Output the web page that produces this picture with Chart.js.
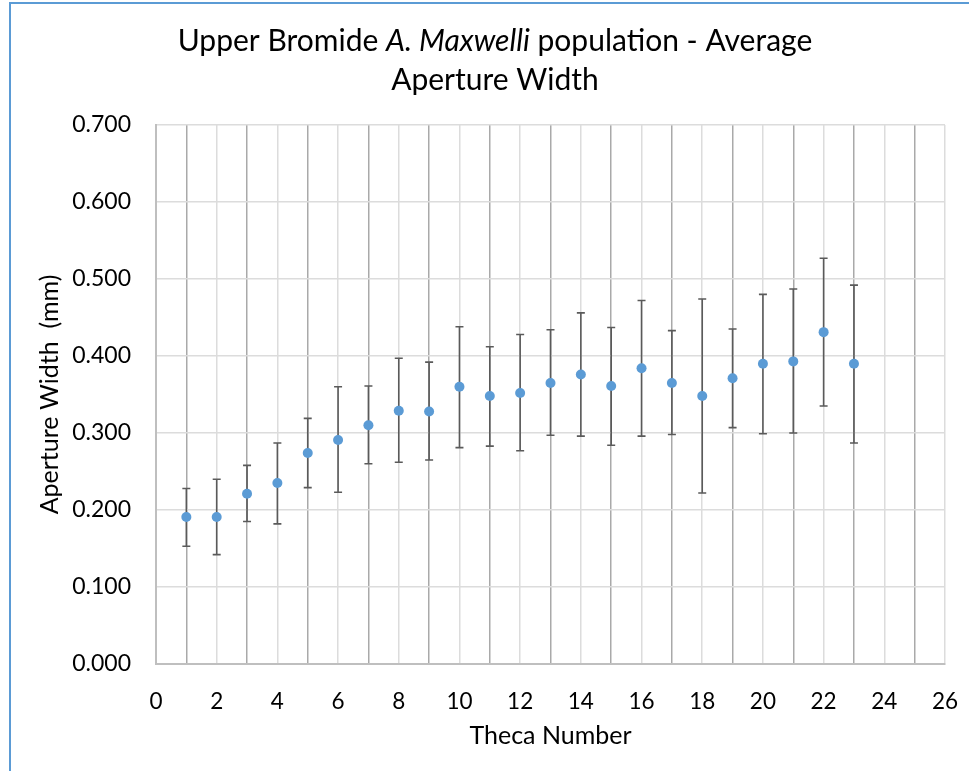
<!DOCTYPE html>
<html>
<head>
<meta charset="utf-8">
<script src="https://cdn.jsdelivr.net/npm/chart.js@4/dist/chart.umd.min.js"></script>
<style>
  html, body { margin: 0; padding: 0; background: #fff; }
  #wrap { position: relative; width: 969px; height: 771px; overflow: hidden; }
  #frame { position: absolute; left: 9px; top: 2px; width: 980px; height: 800px;
    border-top: 2px solid #5b9bd5; border-left: 2px solid #5b9bd5; box-sizing: border-box; }
  canvas { position: absolute; left: 0; top: 0; }
</style>
</head>
<body>
<div id="wrap">
  <div id="frame"></div>
  <canvas id="chart" width="969" height="771"></canvas>
</div>
<script>
// Theca number vs mean aperture width, with the ends of each error bar
const theca = [1, 2, 3, 4, 5, 6, 7, 8, 9, 10, 11, 12, 13, 14, 15, 16, 17, 18, 19, 20, 21, 22, 23];
const meanWidth = [0.191, 0.191, 0.221, 0.235, 0.274, 0.291, 0.310, 0.329, 0.328, 0.360, 0.348, 0.352,
  0.365, 0.376, 0.361, 0.384, 0.365, 0.348, 0.371, 0.390, 0.393, 0.431, 0.390];
const errHigh = [0.228, 0.240, 0.258, 0.287, 0.319, 0.360, 0.361, 0.397, 0.392, 0.438, 0.412, 0.428,
  0.434, 0.456, 0.437, 0.472, 0.433, 0.474, 0.435, 0.480, 0.487, 0.527, 0.492];
const errLow = [0.153, 0.142, 0.185, 0.182, 0.229, 0.223, 0.260, 0.262, 0.265, 0.281, 0.283, 0.277,
  0.297, 0.296, 0.284, 0.296, 0.298, 0.222, 0.307, 0.299, 0.300, 0.335, 0.287];
const titleParts = [
  [['Upper Bromide ', false], ['A. Maxwelli', true], [' population - Average', false]],
  [['Aperture Width', false]]
];

const FONT = 'Lato, "Open Sans", sans-serif';

// Mixed upright/italic title, drawn by hand since Chart.js titles are one style only.
const richTitle = {
  id: 'richTitle',
  afterDraw(chart) {
    const ctx = chart.ctx;
    const size = 30;
    const cx = 495;
    const baselines = [51, 90];
    ctx.save();
    ctx.fillStyle = '#000';
    ctx.textBaseline = 'alphabetic';
    ctx.textAlign = 'left';
    titleParts.forEach((line, li) => {
      const widths = line.map(([t, it]) => {
        ctx.font = `${it ? 'italic ' : ''}${size}px ${FONT}`;
        return ctx.measureText(t).width;
      });
      let x = cx - widths.reduce((a, b) => a + b, 0) / 2;
      line.forEach(([t, it], i) => {
        ctx.font = `${it ? 'italic ' : ''}${size}px ${FONT}`;
        ctx.fillText(t, x, baselines[li]);
        x += widths[i];
      });
    });
    ctx.restore();
  }
};

// Vertical error bars with caps, under the points.
const errorBars = {
  id: 'errorBars',
  beforeDatasetsDraw(chart) {
    const { ctx, scales: { x, y } } = chart;
    ctx.save();
    ctx.strokeStyle = '#5a5a5a';
    ctx.lineWidth = 1.6;
    theca.forEach((t, i) => {
      const px = x.getPixelForValue(t);
      const top = y.getPixelForValue(errHigh[i]);
      const bot = y.getPixelForValue(errLow[i]);
      ctx.beginPath();
      ctx.moveTo(px, top); ctx.lineTo(px, bot);
      ctx.moveTo(px - 4, top); ctx.lineTo(px + 4, top);
      ctx.moveTo(px - 4, bot); ctx.lineTo(px + 4, bot);
      ctx.stroke();
    });
    ctx.restore();
  }
};

new Chart(document.getElementById('chart'), {
  type: 'scatter',
  data: {
    datasets: [{
      data: theca.map((t, i) => ({ x: t, y: meanWidth[i] })),
      backgroundColor: '#5b9bd5',
      borderColor: '#5b9bd5',
      pointRadius: 5,
      pointBorderWidth: 0
    }]
  },
  options: {
    responsive: false,
    animation: false,
    layout: { padding: { left: 35, right: 24, top: 125, bottom: 20 } },
    plugins: { legend: { display: false }, tooltip: { enabled: false }, title: { display: false } },
    scales: {
      x: {
        type: 'linear', min: 0, max: 26,
        // tick padding would otherwise be added to the right overhang of "26"
        afterFit: (s) => { s.height = 87; s.paddingRight = 0; s.paddingLeft = 0; },
        ticks: {
          stepSize: 1, autoSkip: false, maxRotation: 0, color: '#000', padding: 24,
          font: { family: FONT, size: 22.5 },
          callback: (v) => (v % 2 === 0 ? String(v) : '')
        },
        grid: {
          drawTicks: false, tickLength: 0, lineWidth: 1.5,
          color: (c) => (c.tick && c.tick.value % 2 === 1 ? '#a9a9a9' : '#dcdcdc')
        },
        border: { color: '#bfbfbf', width: 2 },
        title: { display: true, text: 'Theca Number', color: '#000',
          font: { family: FONT, size: 25 }, padding: { top: 0, bottom: 0 } }
      },
      y: {
        min: 0, max: 0.7,
        afterFit: (s) => { s.width = 121; },
        ticks: {
          stepSize: 0.1, color: '#000', padding: 25,
          font: { family: FONT, size: 23 },
          callback: (v) => v.toFixed(3)
        },
        grid: { drawTicks: false, tickLength: 0, color: '#dcdcdc', lineWidth: 1.5 },
        border: { color: '#bfbfbf', width: 2 },
        title: { display: true, text: 'Aperture Width  (mm)', color: '#000',
          font: { family: FONT, size: 25 }, padding: { top: 0, bottom: 0 } }
      }
    }
  },
  plugins: [richTitle, errorBars]
});
</script>
</body>
</html>
